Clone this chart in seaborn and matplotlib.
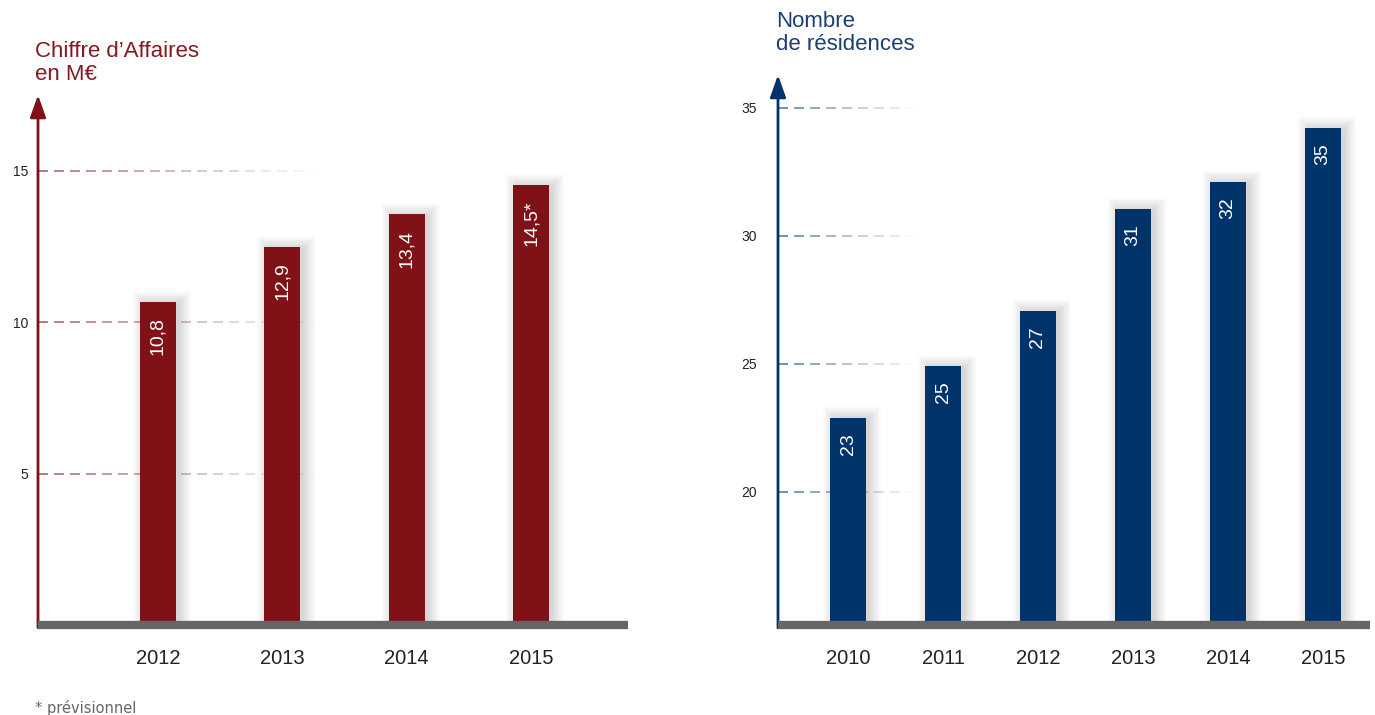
import numpy as np
import matplotlib
matplotlib.use("Agg")
from matplotlib import pyplot as plt
import seaborn as sns

# chiffre d'affaires (M€)
ca_years = ["2012", "2013", "2014", "2015"]
ca_heights = [10.66, 12.47, 13.56, 14.52]
ca_labels = ["10,8", "12,9", "13,4", "14,5*"]

# nombre de résidences
res_years = ["2010", "2011", "2012", "2013", "2014", "2015"]
res_heights = [22.9, 24.9, 27.07, 31.05, 32.1, 34.2]
res_labels = ["23", "25", "27", "31", "32", "35"]

RED = "#7f1117"
BLUE = "#00336a"
GREY = "#666666"

sns.set_style("white")
plt.rcParams["font.family"] = ["Liberation Sans", "DejaVu Sans"]


def faded_grid(ax, y, x_end, color, period=0.027, dash=0.017):
	# dashed line that fades out towards the right
	for x0 in np.arange(0, x_end, period):
		a = 0.6 * (1 - x0 / x_end)
		ax.plot([x0, min(x0 + dash, x_end)], [y, y], transform=ax.get_yaxis_transform(),
			color=color, alpha=a, lw=1.3, zorder=0.3, solid_capstyle="butt")


def bar_panel(ax, years, heights, labels, color, ylim, xlim, width, px_x, px_y, yticks, ypad, grid_end):
	pos = np.arange(len(years))
	# soft drop shadow (a stack of growing translucent bars)
	for k in range(1, 9):
		ax.bar(pos + 4 / px_x, np.array(heights) + (k * 1.6 - 2) / px_y,
			width=width + 2 * (k * 1.6 - 2) / px_x, color="black", alpha=0.02,
			zorder=0.5, linewidth=0)
	sns.barplot(x=years, y=heights, color=color, saturation=1, width=width, ax=ax,
		zorder=2, linewidth=0, edgecolor=color)
	for i, (h, lbl) in enumerate(zip(heights, labels)):
		ax.annotate(lbl, xy=(i, h), xytext=(0, -11), textcoords="offset points",
			rotation=90, ha="center", va="top", color="white", fontsize=14, zorder=3)

	for t in yticks:
		faded_grid(ax, t, grid_end, color)

	ax.set_xlim(*xlim)
	ax.set_ylim(*ylim)
	ax.set_yticks(yticks)
	ax.set_xlabel("")
	ax.set_ylabel("")
	ax.tick_params(axis="y", length=0, pad=7, labelsize=10, labelcolor="#222222")
	ax.tick_params(axis="y", pad=ypad)
	ax.tick_params(axis="x", length=0, pad=17, labelsize=14.5, labelcolor="#222222")

	for s in ["top", "right", "left"]:
		ax.spines[s].set_visible(False)
	ax.spines["bottom"].set_color(GREY)
	ax.spines["bottom"].set_linewidth(6)
	ax.spines["bottom"].set_capstyle("butt")
	ax.spines["bottom"].set_zorder(4)
	ax.patch.set_alpha(0)

	# vertical axis with arrow head
	ax.annotate("", xy=(0, 1), xytext=(0, -0.005), xycoords="axes fraction",
		arrowprops=dict(arrowstyle="-|>,head_length=0.45,head_width=0.16",
			color=color, lw=2, mutation_scale=30, shrinkA=0, shrinkB=0))


fig = plt.figure(figsize=(13.75, 7.15), dpi=100)

ax1 = fig.add_axes([38 / 1375, 90 / 715, 590 / 1375, 530 / 715])
bar_panel(ax1, ca_years, ca_heights, ca_labels, RED,
	ylim=(0, 17.5), xlim=(-0.965, 3.78), width=0.29, px_x=124.3, px_y=30.3,
	yticks=[5, 10, 15], ypad=7, grid_end=0.475)

ax2 = fig.add_axes([778 / 1375, 90 / 715, 592 / 1375, 550 / 715])
bar_panel(ax2, res_years, res_heights, res_labels, BLUE,
	ylim=(14.8, 36.28), xlim=(-0.737, 5.495), width=0.38, px_x=95, px_y=25.6,
	yticks=[20, 25, 30, 35], ypad=15, grid_end=0.228)

fig.text(35 / 1375, 1 - 41 / 715, "Chiffre d’Affaires\nen M€", color="#861820",
	fontsize=16, va="top", ha="left", linespacing=1.1)
fig.text(776 / 1375, 1 - 11 / 715, "Nombre\nde résidences", color="#1b3f73",
	fontsize=16, va="top", ha="left", linespacing=1.1)
fig.text(35 / 1375, 1 - 708 / 715, "* prévisionnel", color="#666666",
	fontsize=10.5, va="center", ha="left", family=["DejaVu Sans"])

fig.savefig("out.png", dpi=100)
